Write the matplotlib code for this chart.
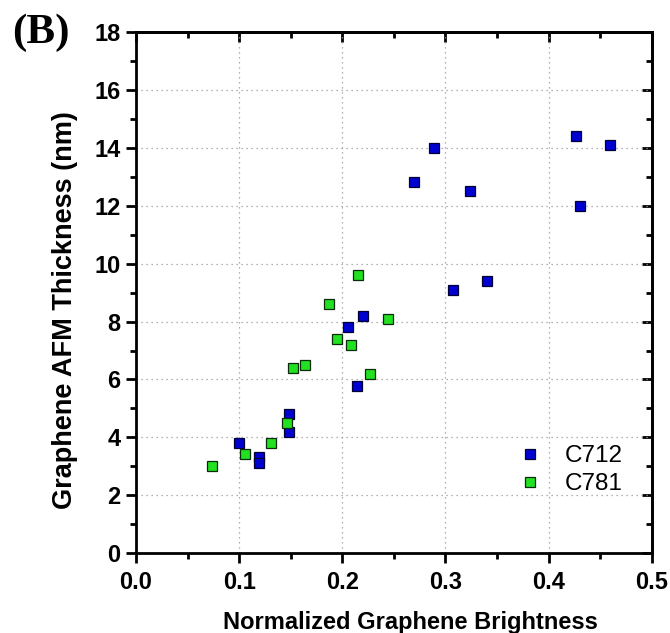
import matplotlib
matplotlib.use("Agg")
import matplotlib.pyplot as plt
from matplotlib.ticker import MultipleLocator

# Data
c712_x = [0.100, 0.119, 0.119, 0.148, 0.148, 0.206, 0.214, 0.220, 0.270, 0.289,
          0.307, 0.324, 0.340, 0.427, 0.430, 0.460]
c712_y = [3.80, 3.31, 3.12, 4.80, 4.20, 7.81, 5.79, 8.20, 12.81, 14.00,
          9.09, 12.51, 9.41, 14.41, 11.99, 14.10]
c781_x = [0.074, 0.106, 0.131, 0.146, 0.152, 0.164, 0.1875, 0.195, 0.208, 0.215,
          0.227, 0.244]
c781_y = [3.00, 3.41, 3.81, 4.51, 6.40, 6.50, 8.61, 7.41, 7.19, 9.60,
          6.20, 8.10]
series_names = ["C712", "C781"]
x_ticks = [0.0, 0.1, 0.2, 0.3, 0.4, 0.5]
x_tick_labels = ["0.0", "0.1", "0.2", "0.3", "0.4", "0.5"]
y_ticks = [0, 2, 4, 6, 8, 10, 12, 14, 16, 18]
x_label = "Normalized Graphene Brightness"
y_label = "Graphene AFM Thickness (nm)"
panel_label = "(B)"

W, H = 670, 633
AX_L, AX_R, AX_T, AX_B = 136, 651.7, 32.3, 553
AW, AH = AX_R - AX_L, AX_B - AX_T
fig = plt.figure(figsize=(W / 100, H / 100), dpi=100)
ax = fig.add_axes([AX_L / W, 1 - AX_B / H, AW / W, AH / H])

ms = 6.5
ax.plot(c712_x, c712_y, linestyle="none", marker="s", markersize=ms,
        markerfacecolor="#0000d0", markeredgecolor="#000033", markeredgewidth=0.9,
        label=series_names[0], zorder=3, clip_on=False)
ax.plot(c781_x, c781_y, linestyle="none", marker="s", markersize=ms,
        markerfacecolor="#22e022", markeredgecolor="#0a2a0a", markeredgewidth=0.9,
        label=series_names[1], zorder=3, clip_on=False)

ax.set_xlim(0, 0.5)
ax.set_ylim(0, 18)
ax.set_xticks(x_ticks)
ax.set_xticklabels(x_tick_labels)
ax.set_yticks(y_ticks)
ax.xaxis.set_minor_locator(MultipleLocator(0.05))
ax.yaxis.set_minor_locator(MultipleLocator(1))

ax.grid(True, which="major", linestyle=(0, (1, 3)), color="#999999", linewidth=0.9)
ax.set_axisbelow(True)

for sp in ax.spines.values():
    sp.set_linewidth(2.0)
    sp.set_color("black")

ax.tick_params(axis="both", which="major", direction="out", length=7, width=2.0,
               labelsize=17, pad=4)
ax.tick_params(axis="x", which="major", pad=6)
ax.tick_params(axis="both", which="minor", direction="out", length=4.5, width=2.0)
ax.tick_params(axis="both", which="both", top=False, right=False)
for lab in ax.get_xticklabels() + ax.get_yticklabels():
    lab.set_fontfamily("Liberation Sans")
    lab.set_fontweight("bold")

# inward ticks on top and right via secondary axes
sec_x = ax.secondary_xaxis("top")
sec_x.set_xticks(x_ticks)
sec_x.xaxis.set_minor_locator(MultipleLocator(0.05))
sec_x.tick_params(which="major", direction="in", length=7, width=2.0, labeltop=False)
sec_x.tick_params(which="minor", direction="in", length=4.5, width=2.0)
sec_x.spines["top"].set_linewidth(2.0)
sec_y = ax.secondary_yaxis("right")
sec_y.set_yticks(y_ticks)
sec_y.yaxis.set_minor_locator(MultipleLocator(1))
sec_y.tick_params(which="major", direction="in", length=7, width=2.0, labelright=False)
sec_y.tick_params(which="minor", direction="in", length=4.5, width=2.0)
sec_y.spines["right"].set_linewidth(2.0)

ax.set_xlabel(x_label, fontfamily="Liberation Sans", fontweight="bold", fontsize=17)
ax.xaxis.set_label_coords((410 - AX_L) / AW, (AX_B - 611) / AH)
ax.set_ylabel(y_label, fontfamily="Liberation Sans", fontweight="bold", fontsize=19.5)
ax.yaxis.set_label_coords((78 - AX_L) / AW, (AX_B - 310) / AH)

leg = fig.legend(handles=ax.get_lines(), loc="upper left",
                 bbox_to_anchor=(506 / W, 1 - 433 / H), frameon=False, borderpad=0,
                 prop=dict(family="Liberation Sans", size=17.5), handletextpad=0.9,
                 labelspacing=0.25, markerscale=1.0, handlelength=1.0)

fig.text(12 / W, 1 - 43 / H, panel_label, fontfamily="Liberation Serif",
         fontweight="bold", fontsize=31, ha="left", va="baseline")

fig.savefig("out.png", dpi=100)
